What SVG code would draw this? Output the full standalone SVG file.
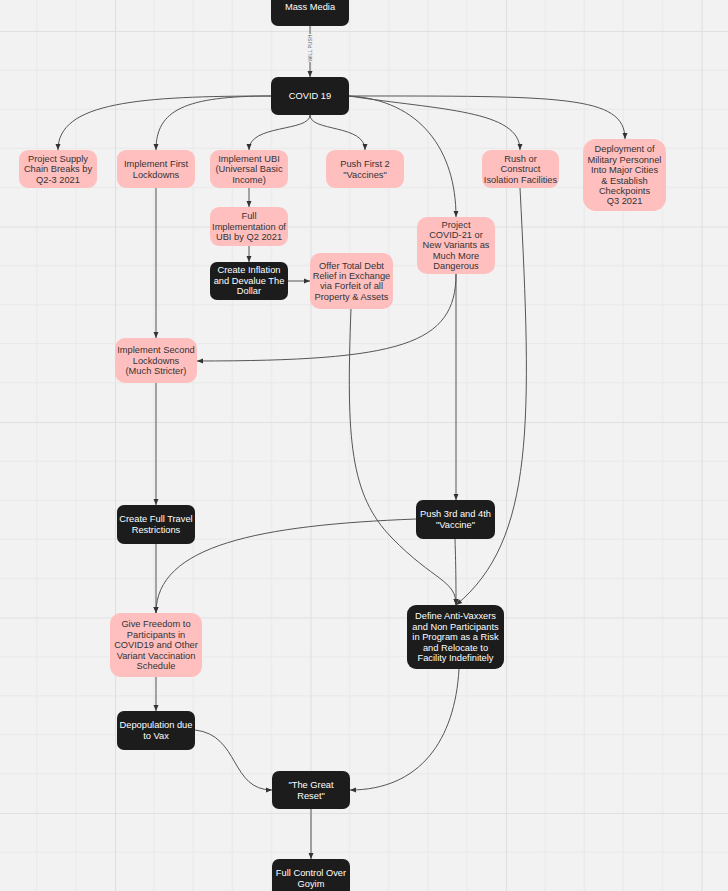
<svg xmlns="http://www.w3.org/2000/svg" width="728" height="891" viewBox="0 0 728 891">
<defs>
<pattern id="grid" patternUnits="userSpaceOnUse" x="115" y="31" width="195.5" height="195.5">
<rect width="195.5" height="195.5" fill="#f2f2f2"/>
<path d="M39.1,0V195.5M78.2,0V195.5M117.3,0V195.5M156.4,0V195.5M0,39.1H195.5M0,78.2H195.5M0,117.3H195.5M0,156.4H195.5" stroke="#e8e8e8" stroke-width="1" fill="none"/>
<path d="M0.5,0V195.5M0,0.5H195.5" stroke="#e0e0e0" stroke-width="1.2" fill="none"/>
</pattern>
<marker id="arr" markerUnits="userSpaceOnUse" markerWidth="8" markerHeight="8" viewBox="0 0 8 8" refX="7" refY="4" orient="auto">
<path d="M1,1.5L7,4L1,6.5Z" fill="#333"/>
</marker>
</defs>
<style>
.pink{fill:#ffbfbf}
.dark{fill:#1c1c1c}
text{font-family:"Liberation Sans",Arial,sans-serif;font-size:9.3px;text-anchor:middle}
.pt{fill:#333}
.dt{fill:#fff}
.e{fill:none;stroke:#555;stroke-width:1;marker-end:url(#arr)}
.lbl{font-size:5px;fill:#555}
</style>
<rect width="728" height="891" fill="url(#grid)"/>
<g id="connectors">
<path class="e" d="M310,26V77"/>
<rect x="307" y="34" width="6" height="28" fill="#f2f2f2"/>
<text class="lbl" transform="translate(312,48) rotate(-90)">WILL PUSH</text>
<path class="e" d="M271,96C140,96 58,102 58,150"/>
<path class="e" d="M271,96C185,96 156,110 156,150"/>
<path class="e" d="M310,115C310,132 249,124 249,150"/>
<path class="e" d="M310,115C310,132 365,124 365,150"/>
<path class="e" d="M349,96C420,100 456,150 456,217"/>
<path class="e" d="M349,96C440,110 520,110 520,150"/>
<path class="e" d="M349,96C560,96 625,95 625,139"/>
<path class="e" d="M249,188V207"/>
<path class="e" d="M249,246V262"/>
<path class="e" d="M288,281H310"/>
<path class="e" d="M156,188V338"/>
<path class="e" d="M456,274C456,345 400,361 197,361"/>
<path class="e" d="M456,274V500"/>
<path class="e" d="M156,383V505"/>
<path class="e" d="M156,544V613"/>
<path class="e" d="M416,519C260,525 156,545 156,613"/>
<path class="e" d="M455,539C456,570 456,590 456,605"/>
<path class="e" d="M351,309C346,440 350,495 392,538S456,580 456,605"/>
<path class="e" d="M520,188C532,420 535,540 456,605"/>
<path class="e" d="M156,677V711"/>
<path class="e" d="M195,730C240,735 230,790 272,790"/>
<path class="e" d="M459,669C455,740 420,790 350,790"/>
<path class="e" d="M311,809V859"/>
</g>
<g id="mass-media"><rect class="dark" x="271" y="-12" width="78" height="38" rx="7"/><text class="dt" x="310" y="10.3">Mass Media</text></g>
<g id="covid19"><rect class="dark" x="271" y="77" width="78" height="38" rx="7"/><text class="dt" x="310" y="99.3">COVID 19</text></g>
<g id="supply"><rect class="pink" x="19" y="150" width="78" height="38" rx="9"/><text class="pt" x="58" y="161.5">Project Supply<tspan x="58" dy="10.5">Chain Breaks by</tspan><tspan x="58" dy="10.5">Q2-3 2021</tspan></text></g>
<g id="first-lockdowns"><rect class="pink" x="117" y="150" width="78" height="38" rx="9"/><text class="pt" x="156" y="167">Implement First<tspan x="156" dy="10.5">Lockdowns</tspan></text></g>
<g id="ubi"><rect class="pink" x="210" y="150" width="78" height="38" rx="9"/><text class="pt" x="249" y="161.5">Implement UBI<tspan x="249" dy="10.5">(Universal Basic</tspan><tspan x="249" dy="10.5">Income)</tspan></text></g>
<g id="push-first"><rect class="pink" x="326" y="150" width="78" height="38" rx="9"/><text class="pt" x="365" y="167">Push First 2<tspan x="365" dy="10.5">"Vaccines"</tspan></text></g>
<g id="rush"><rect class="pink" x="482" y="150" width="77" height="38" rx="9"/><text class="pt" x="520.5" y="161.5">Rush or<tspan x="520.5" dy="10.5">Construct</tspan><tspan x="520.5" dy="10.5">Isolation Facilities</tspan></text></g>
<g id="military"><rect class="pink" x="583" y="139" width="83" height="72" rx="13"/><text class="pt" x="624.5" y="152.3">Deployment of<tspan x="624.5" dy="10.4">Military Personnel</tspan><tspan x="624.5" dy="10.4">Into Major Cities</tspan><tspan x="624.5" dy="10.4">&amp; Establish</tspan><tspan x="624.5" dy="10.4">Checkpoints</tspan><tspan x="624.5" dy="10.4">Q3 2021</tspan></text></g>
<g id="full-ubi"><rect class="pink" x="210" y="207" width="78" height="39" rx="9"/><text class="pt" x="249" y="219.3">Full<tspan x="249" dy="10.5">Implementation of</tspan><tspan x="249" dy="10.5">UBI by Q2 2021</tspan></text></g>
<g id="inflation"><rect class="dark" x="210" y="262" width="78" height="38" rx="7"/><text class="dt" x="249" y="273.3">Create Inflation<tspan x="249" dy="10.5">and Devalue The</tspan><tspan x="249" dy="10.5">Dollar</tspan></text></g>
<g id="debt"><rect class="pink" x="310" y="253" width="83" height="56" rx="10"/><text class="pt" x="351.5" y="268.5">Offer Total Debt<tspan x="351.5" dy="10.4">Relief in Exchange</tspan><tspan x="351.5" dy="10.4">via Forfeit of all</tspan><tspan x="351.5" dy="10.4">Property &amp; Assets</tspan></text></g>
<g id="covid21"><rect class="pink" x="417" y="217" width="78" height="57" rx="10"/><text class="pt" x="456" y="227.5">Project<tspan x="456" dy="10.4">COVID-21 or</tspan><tspan x="456" dy="10.4">New Variants as</tspan><tspan x="456" dy="10.4">Much More</tspan><tspan x="456" dy="10.4">Dangerous</tspan></text></g>
<g id="second-lockdowns"><rect class="pink" x="115" y="338" width="82" height="45" rx="10"/><text class="pt" x="156" y="353.3">Implement Second<tspan x="156" dy="10.5">Lockdowns</tspan><tspan x="156" dy="10.5">(Much Stricter)</tspan></text></g>
<g id="travel"><rect class="dark" x="117" y="505" width="78" height="39" rx="7"/><text class="dt" x="156" y="522.3">Create Full Travel<tspan x="156" dy="10.5">Restrictions</tspan></text></g>
<g id="push-third"><rect class="dark" x="416" y="500" width="79" height="39" rx="7"/><text class="dt" x="455.5" y="517.3">Push 3rd and 4th<tspan x="455.5" dy="10.5">"Vaccine"</tspan></text></g>
<g id="freedom"><rect class="pink" x="110" y="613" width="92" height="64" rx="11"/><text class="pt" x="156" y="627.3">Give Freedom to<tspan x="156" dy="10.4">Participants in</tspan><tspan x="156" dy="10.4">COVID19 and Other</tspan><tspan x="156" dy="10.4">Variant Vaccination</tspan><tspan x="156" dy="10.4">Schedule</tspan></text></g>
<g id="define"><rect class="dark" x="407" y="605" width="97" height="64" rx="9"/><text class="dt" x="455.5" y="619.3">Define Anti-Vaxxers<tspan x="455.5" dy="10.4">and Non Participants</tspan><tspan x="455.5" dy="10.4">in Program as a Risk</tspan><tspan x="455.5" dy="10.4">and Relocate to</tspan><tspan x="455.5" dy="10.4">Facility Indefinitely</tspan></text></g>
<g id="depopulation"><rect class="dark" x="117" y="711" width="78" height="39" rx="7"/><text class="dt" x="156" y="728.3">Depopulation due<tspan x="156" dy="10.5">to Vax</tspan></text></g>
<g id="great-reset"><rect class="dark" x="272" y="771" width="78" height="38" rx="7"/><text class="dt" x="311" y="788.3">"The Great<tspan x="311" dy="10.5">Reset"</tspan></text></g>
<g id="full-control"><rect class="dark" x="272" y="859" width="78" height="45" rx="7"/><text class="dt" x="311" y="876.3">Full Control Over<tspan x="311" dy="10.5">Goyim</tspan></text></g>
</svg>
